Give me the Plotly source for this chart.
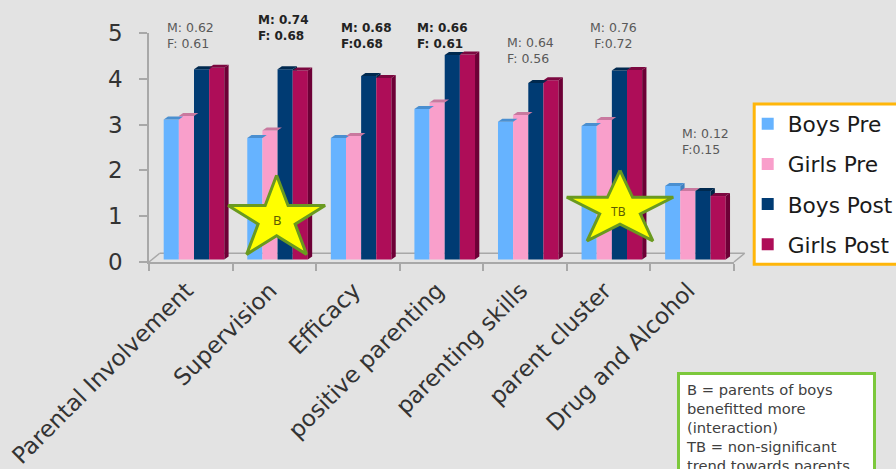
import plotly.graph_objects as go
import numpy as np

categories = ["Parental Involvement", "Supervision", "Efficacy", "positive parenting",
              "parenting skills", "parent cluster", "Drug and Alcohol"]
boys_pre = [3.11, 2.71, 2.71, 3.34, 3.06, 2.97, 1.66]
girls_pre = [3.19, 2.87, 2.75, 3.48, 3.21, 3.10, 1.55]
boys_post = [4.21, 4.21, 4.06, 4.52, 3.91, 4.18, 1.55]
girls_post = [4.24, 4.18, 4.02, 4.53, 3.97, 4.19, 1.44]
series_names = ["Boys Pre", "Girls Pre", "Boys Post", "Girls Post"]
effect_labels = ["M: 0.62<br>F: 0.61", "M: 0.74<br>F: 0.68", "M: 0.68<br>F:0.68", "M: 0.66<br>F: 0.61",
                 "M: 0.64<br>F: 0.56", "M: 0.76<br>F:0.72", "M: 0.12<br>F:0.15"]
effect_bold = [False, True, True, True, False, False, False]

series = [boys_pre, girls_pre, boys_post, girls_post]
front = ["#66b3ff", "#f99fcb", "#003b73", "#ae0d58"]
cap = ["#4a8fd0", "#c9799f", "#00294f", "#7c0840"]
side = ["#3f7fbf", "#b56d92", "#002547", "#6d0036"]

W, H = 896, 469
L, R, T, B = 149.3, 734.3, 33.0, 261.7
def px(x): return (x - L) / (R - L)
def py(y): return (B - y) / (B - T)
xu = (R - L) / 7
yu = (B - T) / 5

bw = 15.15 / xu
x0 = 14.7 / xu
base = 2.4 / yu
dx = 4.3 / xu
dy = 3.0 / yu
FONT = "DejaVu Sans"

fig = go.Figure()
for s, vals in enumerate(series):
    fig.add_trace(go.Bar(
        x=[i + x0 + (s + 0.5) * bw for i in range(len(vals))],
        y=[v - base for v in vals], base=base, width=bw, name=series_names[s],
        marker=dict(color=front[s], line=dict(width=0)),
        legendgroup=series_names[s], hoverinfo="skip"))

for i in range(len(categories)):
    for s in range(4):
        v = series[s][i]
        xl = i + x0 + s * bw
        xr = xl + bw
        if s < 3:
            low = max(base, series[s + 1][i])
        else:
            low = base
        if v > low:
            lowr = low + dy if s == 3 else low
            fig.add_trace(go.Scatter(
                x=[xr, xr + dx, xr + dx, xr, xr], y=[v, v + dy, lowr, low, v],
                mode="lines", fill="toself", fillcolor=side[s], line=dict(width=0),
                showlegend=False, hoverinfo="skip", cliponaxis=False))
        fig.add_trace(go.Scatter(
            x=[xl, xr, xr + dx, xl + dx, xl], y=[v, v, v + dy, v + dy, v],
            mode="lines", fill="toself", fillcolor=cap[s], line=dict(width=0),
            showlegend=False, hoverinfo="skip", cliponaxis=False))

star_labels = ["B", "TB"]
star_x = [1.527, 5.636]
star_y = [0.94, 1.15]
star_rx = [0.61, 0.67]
star_ry = [0.956, 0.853]
for k in range(2):
    ang = np.pi / 2 + np.arange(11) * np.pi / 5
    rad = np.where(np.arange(11) % 2 == 0, 1.0, 0.382)
    fig.add_trace(go.Scatter(
        x=star_x[k] + star_rx[k] * rad * np.cos(ang),
        y=star_y[k] + star_ry[k] * rad * np.sin(ang),
        mode="lines", fill="toself", fillcolor="#ffff00",
        line=dict(color="#6a9a1f", width=3),
        showlegend=False, hoverinfo="skip", cliponaxis=False))

annotations = []
effect_x = [165, 256, 339.7, 415, 505.7, 588, 680]
effect_ym = [35.5, 28, 35.5, 35.5, 50.5, 35.5, 141.5]
for k, txt in enumerate(effect_labels):
    col = "#222222" if effect_bold[k] else "#595959"
    t = "<br>".join(f"<b>{p}</b>" for p in txt.split("<br>")) if effect_bold[k] else txt
    annotations.append(dict(
        text=t, xref="paper", yref="paper", x=px(effect_x[k]), y=py(effect_ym[k]),
        xanchor="left", yanchor="middle", align="center" if k == 5 else "left", showarrow=False,
        font=dict(family=FONT, size=12 if effect_bold[k] else 12.5, color=col)))
annotations.append(dict(text=star_labels[0], x=star_x[0], y=star_y[0] - 0.03, xref="x", yref="y", showarrow=False,
                        font=dict(family="Noto Sans", size=13, color="#5c5c00")))
annotations.append(dict(text=star_labels[1], x=star_x[1] - 0.02, y=star_y[1] - 0.04, xref="x", yref="y", showarrow=False,
                        font=dict(family="Noto Sans", size=12, color="#5c5c00")))
annotations.append(dict(
    text="B = parents of boys<br>benefitted more<br>(interaction)<br>TB = non-significant<br>trend towards parents",
    xref="paper", yref="paper", x=px(677), y=py(372), xanchor="left", yanchor="top", align="left",
    valign="top", width=181, height=125, showarrow=False, bgcolor="#ffffff",
    bordercolor="#7cc83c", borderwidth=3, borderpad=6,
    font=dict(family=FONT, size=14.7, color="#404040")))

AX = "#a8a8a8"
shapes = [dict(type="line", xref="paper", yref="paper", layer="below",
               x0=px(a), y0=py(b), x1=px(c), y1=py(d), line=dict(color=AX, width=1.5))
          for a, b, c, d in [(149.3, 261.7, 160, 253), (160, 253, 745, 253), (745, 253, 734.3, 261.7)]]
shapes.append(dict(type="rect", xref="paper", yref="paper", layer="above",
                   x0=px(754.5), y0=py(104), x1=px(905), y1=py(264),
                   fillcolor="#ffffff", line=dict(color="#ffb60a", width=3)))

fig.update_layout(
    width=W, height=H, autosize=False,
    margin=dict(l=L, r=W - R, t=T, b=H - B, pad=0, autoexpand=False),
    paper_bgcolor="#e3e3e3", plot_bgcolor="rgba(0,0,0,0)",
    barmode="overlay", showlegend=True,
    annotations=annotations, shapes=shapes,
    legend=dict(x=px(748), y=py(103), xanchor="left", yanchor="top",
                bgcolor="rgba(0,0,0,0)", borderwidth=0,
                font=dict(family=FONT, size=21.7, color="#1a1a1a"),
                entrywidth=105, entrywidthmode="pixels",
                tracegroupgap=9, traceorder="grouped"),
    xaxis=dict(range=[0, 7], tickmode="array",
               tickvals=[i + 0.45 for i in range(7)], ticktext=categories,
               tickangle=-45, ticks="", showgrid=False, zeroline=False,
               showline=True, linecolor=AX, linewidth=2,
               ticklabelstandoff=4,
               tickfont=dict(family=FONT, size=23, color="#333333"),
               minor=dict(tickmode="array", tickvals=list(range(8)), ticks="outside",
                          ticklen=7, tickwidth=1.5, tickcolor=AX, showgrid=False)),
    yaxis=dict(range=[0, 5], tickmode="array", tickvals=[0, 1, 2, 3, 4, 5],
               ticks="outside", ticklen=8, tickwidth=1.5, tickcolor=AX,
               showgrid=False, zeroline=False, showline=True, linecolor=AX, linewidth=1.5,
               ticklabelstandoff=12,
               tickfont=dict(family=FONT, size=23, color="#333333")),
)
fig.write_html("out.html", config=dict(displayModeBar=False),
               post_script="document.body.style.margin='0';document.documentElement.style.background='#e3e3e3';")
